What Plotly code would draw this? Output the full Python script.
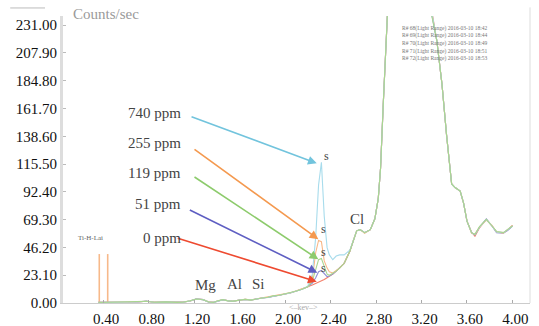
import plotly.graph_objects as go

# ---------------- data ----------------
energy_kev = [0.36, 0.40, 0.50, 0.60, 0.70, 0.78, 0.85, 0.95, 1.05, 1.10, 1.165, 1.22, 1.28, 1.33,
              1.37, 1.41, 1.455, 1.50, 1.543, 1.60, 1.65, 1.70, 1.75, 1.80, 1.85, 1.895, 1.95, 2.00,
              2.044, 2.10, 2.15, 2.20, 2.24, 2.27, 2.295, 2.32, 2.345, 2.37, 2.39, 2.42, 2.45, 2.48,
              2.52, 2.57, 2.60, 2.63, 2.66, 2.70, 2.75, 2.79, 2.82, 2.84, 2.865, 2.89, 2.95, 3.05,
              3.15, 3.24, 3.29, 3.335, 3.38, 3.42, 3.45, 3.465, 3.495, 3.54, 3.57, 3.60, 3.64, 3.67,
              3.71, 3.77, 3.82, 3.86, 3.92, 3.96, 4.00]

counts_740ppm = [0.5, 0.5, 0.3, 0.5, 0.8, 1.5, 0.6, 0.8, 0.5, 0.6, 1.7, 3.3, 2.8, 0.8,
                 0.5, 1.8, 2.8, 1.8, 1.5, 2.5, 3.0, 2.5, 3.5, 4.2, 4.8, 5.8, 6.5, 7.5,
                 8.3, 10.0, 11.5, 14.0, 24.0, 55.0, 98.0, 117.0, 72.0, 46.0, 40.0, 36.0, 39.0, 40.0,
                 40.0, 44.0, 52.0, 60.0, 61.0, 58.5, 61.0, 70.0, 87.0, 112.0, 168.0, 245.0, 340.0, 420.0,
                 400.0, 300.0, 242.0, 218.0, 182.0, 140.0, 110.0, 99.0, 96.0, 93.0, 83.0, 68.0, 58.5, 57.0,
                 63.0, 69.6, 64.0, 59.0, 58.5, 61.0, 64.0]
counts_255ppm = [0.5, 0.4, 0.4, 0.5, 0.9, 1.4, 0.7, 0.8, 0.6, 0.7, 1.6, 3.2, 2.9, 0.9,
                 0.6, 1.7, 2.9, 1.9, 1.5, 2.4, 3.1, 2.6, 3.4, 4.3, 4.9, 5.8, 6.6, 7.4,
                 8.4, 10.1, 11.6, 13.5, 20.0, 42.0, 52.0, 51.0, 35.0, 29.0, 26.0, 25.0, 27.0, 29.0,
                 33.0, 43.0, 52.0, 60.0, 61.0, 58.0, 61.0, 70.0, 87.0, 112.0, 168.0, 245.0, 340.0, 420.0,
                 400.0, 300.0, 241.0, 218.0, 182.0, 140.0, 110.0, 99.0, 96.0, 93.0, 83.0, 68.0, 58.0, 57.5,
                 63.0, 69.0, 64.5, 59.0, 58.0, 61.5, 64.5]
counts_119ppm = [0.4, 0.5, 0.3, 0.6, 0.8, 1.5, 0.6, 0.9, 0.5, 0.6, 1.8, 3.3, 2.7, 0.8,
                 0.5, 1.9, 2.8, 1.7, 1.6, 2.5, 3.0, 2.4, 3.5, 4.1, 4.8, 5.9, 6.4, 7.6,
                 8.2, 10.0, 11.4, 13.5, 18.0, 28.0, 36.0, 37.0, 30.0, 24.0, 23.0, 24.5, 26.5, 29.0,
                 33.0, 43.0, 52.0, 60.0, 61.0, 58.5, 61.0, 70.0, 87.0, 112.0, 168.0, 245.0, 340.0, 420.0,
                 400.0, 300.0, 239.0, 218.0, 182.0, 140.0, 110.0, 99.0, 96.0, 93.0, 83.0, 68.0, 58.5, 57.0,
                 63.5, 69.6, 64.0, 59.5, 58.5, 61.0, 64.0]
counts_51ppm = [0.5, 0.5, 0.4, 0.5, 0.8, 1.6, 0.6, 0.8, 0.5, 0.7, 1.7, 3.4, 2.8, 0.7,
                0.5, 1.8, 2.7, 1.8, 1.4, 2.5, 2.9, 2.5, 3.6, 4.2, 4.7, 5.7, 6.5, 7.5,
                8.3, 9.9, 11.5, 13.5, 16.5, 21.0, 26.0, 27.0, 24.0, 22.0, 22.5, 24.0, 26.5, 29.0,
                33.0, 43.0, 52.0, 60.0, 61.0, 58.5, 61.0, 70.0, 87.0, 112.0, 168.0, 245.0, 340.0, 420.0,
                400.0, 300.0, 240.0, 218.0, 182.0, 140.0, 110.0, 99.0, 96.0, 93.0, 83.0, 68.0, 58.5, 56.5,
                63.0, 70.0, 64.0, 58.5, 58.0, 60.5, 64.0]
counts_0ppm = [0.5, 0.5, 0.3, 0.5, 0.8, 1.5, 0.6, 0.8, 0.5, 0.6, 1.7, 3.3, 2.8, 0.8,
               0.5, 1.8, 2.8, 1.8, 1.5, 2.5, 3.0, 2.5, 3.5, 4.2, 4.8, 5.8, 6.5, 7.5,
               8.3, 10.0, 11.5, 13.5, 15.0, 16.2, 17.3, 18.3, 19.5, 21.0, 22.0, 24.0, 26.5, 29.0,
               33.0, 43.0, 52.0, 60.0, 61.0, 58.5, 61.0, 70.0, 87.0, 112.0, 168.0, 245.0, 340.0, 420.0,
               400.0, 300.0, 243.0, 218.0, 182.0, 140.0, 110.0, 99.0, 96.0, 93.0, 83.0, 68.0, 59.0, 55.5,
               62.5, 69.6, 64.0, 59.0, 58.5, 61.0, 64.5]

series_names = ["740 ppm", "255 ppm", "119 ppm", "51 ppm", "0 ppm"]
series_counts = [counts_740ppm, counts_255ppm, counts_119ppm, counts_51ppm, counts_0ppm]
line_colors = ["#a8dcec", "#f8b888", "#a9d690", "#8e8ed6", "#f3806c"]
arrow_colors = ["#72c4dd", "#f4994f", "#8dcb6c", "#5e5ec2", "#ee4a30"]
draw_order = [4, 3, 1, 0, 2]  # red, blue, orange, light blue, green on top

# Ti-H-Lai marker lines
marker_kev = [0.367, 0.441]
marker_height = [40.7, 40.7]

# arrows: label anchor (keV, counts) -> peak tip (keV, counts)
arrow_tail_kev = [1.165, 1.191, 1.191, 1.150, 1.044]
arrow_tail_cnt = [155.4, 128.6, 105.6, 77.9, 54.3]
arrow_tip_kev = [2.279, 2.293, 2.293, 2.284, 2.279]
arrow_tip_cnt = [116.1, 53.0, 36.3, 25.2, 17.7]
label_cnt = [158.2, 133.2, 108.3, 82.3, 54.0]

s_label_kev = [2.367, 2.337, 2.337, 2.337]
s_label_cnt = [122.2, 61.3, 42.0, 29.5]

element_labels = ["Mg", "Al", "Si", "Cl"]
element_kev = [1.297, 1.552, 1.771, 2.633]
element_cnt = [15.0, 15.8, 15.8, 69.8]

legend_lines = ["R# 68(Light Range) 2016-03-10 18:42",
                "R# 69(Light Range) 2016-03-10 18:44",
                "R# 70(Light Range) 2016-03-10 18:49",
                "R# 71(Light Range) 2016-03-10 18:51",
                "R# 72(Light Range) 2016-03-10 18:53"]
legend_cnt = [228.0, 222.0, 215.6, 209.0, 203.2]

y_ticks = [0.0, 23.1, 46.2, 69.3, 92.4, 115.5, 138.6, 161.7, 184.8, 207.9, 231.0]
x_ticks = [0.4, 0.8, 1.2, 1.6, 2.0, 2.4, 2.8, 3.2, 3.6, 4.0]

SERIF = "Liberation Serif, Times New Roman, serif"

# ---------------- figure ----------------
fig = go.Figure()

mx, my = [], []
for k, h in zip(marker_kev, marker_height):
    mx += [k, k, None]
    my += [0, h, None]
fig.add_trace(go.Scatter(x=mx, y=my, mode="lines", line=dict(color="#f7b98a", width=1.6),
                         hoverinfo="skip", showlegend=False))

for i in draw_order:
    fig.add_trace(go.Scatter(x=energy_kev, y=series_counts[i], mode="lines", name=series_names[i],
                             line=dict(color=line_colors[i], width=1.1), showlegend=False))

annotations = []
for i, name in enumerate(series_names):
    annotations.append(dict(x=arrow_tip_kev[i], y=arrow_tip_cnt[i], xref="x", yref="y",
                            ax=arrow_tail_kev[i], ay=arrow_tail_cnt[i], axref="x", ayref="y",
                            showarrow=True, arrowhead=2, arrowsize=1.1, arrowwidth=1.6,
                            arrowcolor=arrow_colors[i], text=""))
    annotations.append(dict(x=1.103, y=label_cnt[i], xref="x", yref="y", text=name,
                            showarrow=False, xanchor="right", yanchor="middle",
                            font=dict(family=SERIF, size=15, color="#444")))

for xk, yc in zip(s_label_kev, s_label_cnt):
    annotations.append(dict(x=xk, y=yc, xref="x", yref="y", text="s", showarrow=False,
                            font=dict(family=SERIF, size=12, color="#444")))

for t, xk, yc in zip(element_labels, element_kev, element_cnt):
    annotations.append(dict(x=xk, y=yc, xref="x", yref="y", text=t, showarrow=False,
                            font=dict(family=SERIF, size=15, color="#444")))

annotations.append(dict(x=0.29, y=54.3, xref="x", yref="y", text="Ti-H-Lai", showarrow=False,
                        font=dict(family=SERIF, size=7, color="#666")))

for t, yc in zip(legend_lines, legend_cnt):
    annotations.append(dict(x=3.011, y=yc, xref="x", yref="y", text=t, showarrow=False,
                            xanchor="left", yanchor="middle",
                            font=dict(family=SERIF, size=5.5, color="#777")))

annotations.append(dict(x=0.092, y=1.007, xref="paper", yref="paper", text="Counts/sec",
                        showarrow=False, xanchor="center", yanchor="middle",
                        font=dict(family=SERIF, size=15, color="#9a9a9a")))
annotations.append(dict(x=0.515, y=-0.014, xref="paper", yref="paper", text="&lt;–kev–&gt;",
                        showarrow=False, xanchor="center", yanchor="middle",
                        font=dict(family=SERIF, size=8, color="#aaa")))

shapes = [
    dict(type="line", xref="paper", yref="paper", x0=1, x1=1, y0=0, y1=1.03,
         line=dict(color="#dddddd", width=1)),
    dict(type="line", xref="paper", yref="paper", x0=-0.113, x1=-0.0385, y0=1.028, y1=1.028,
         line=dict(color="#bbbbbb", width=1)),
]

fig.update_layout(
    width=539, height=326,
    margin=dict(l=63, r=9, t=16, b=23, autoexpand=False),
    paper_bgcolor="white", plot_bgcolor="white",
    showlegend=False,
    annotations=annotations, shapes=shapes,
    xaxis=dict(range=[0.048, 4.154], tickvals=x_ticks, tickformat=".2f", automargin=False,
               showgrid=False, zeroline=False, showline=True, linecolor="#cccccc", linewidth=1,
               ticks="inside", ticklen=3, tickcolor="#aaaaaa", ticklabelstandoff=2,
               ticklabelshift=3,
               tickfont=dict(family=SERIF, size=15, color="#111")),
    yaxis=dict(range=[0, 238.6], tickvals=y_ticks, tickformat=".2f", automargin=False,
               showgrid=False, zeroline=False, showline=True, linecolor="#dddddd", linewidth=3,
               ticks="inside", ticklen=3, tickcolor="#bbbbbb",
               tickfont=dict(family=SERIF, size=15, color="#111")),
)

fig.write_html("out.html", config={"displayModeBar": False},
               post_script="document.body.style.margin='0px';document.body.style.overflow='hidden';")
